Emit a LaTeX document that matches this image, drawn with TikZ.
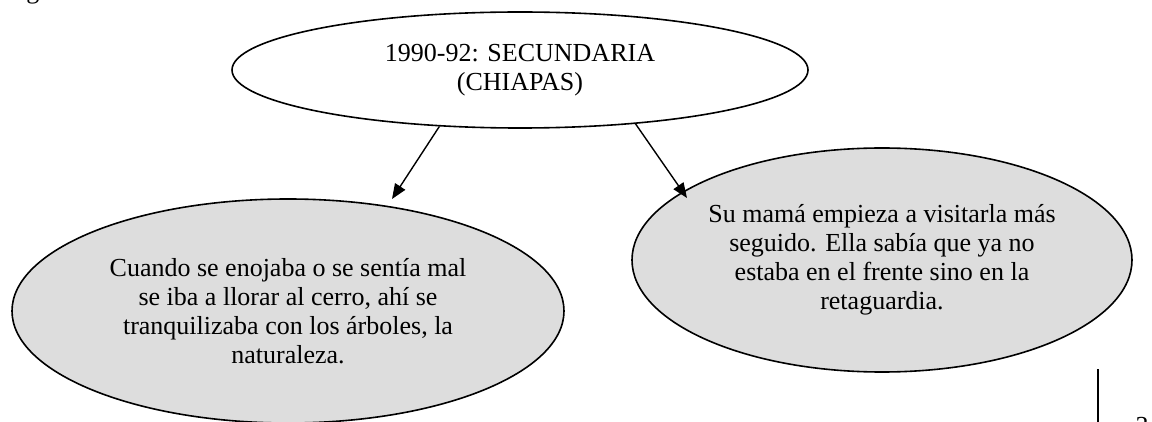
\documentclass[tikz,border=0pt]{standalone}
\usepackage{fontspec}
\setmainfont{Liberation Serif}
\usetikzlibrary{shapes.geometric,arrows.meta}
\definecolor{bubblefill}{HTML}{DDDDDD}
\tikzset{
  bubble/.style={ellipse, draw=black, line width=1.6pt, inner sep=0pt, align=center,
    font=\fontsize{26}{29}\selectfont},
  linkarrow/.style={draw=black, line width=1.4pt, -{Triangle[length=15pt,width=12pt]}},
  pagetext/.style={inner sep=0pt, font=\fontsize{26}{29}\selectfont}
}
\begin{document}
\begin{tikzpicture}[x=1pt,y=-1pt]
\useasboundingbox (0,0) rectangle (1152,422);
\clip (0,0) rectangle (1152,422);
\fill[white] (0,0) rectangle (1152,422);
% page fragments
\node[pagetext, anchor=base] (g) at (33,-1) {g};
\node[pagetext, anchor=base] (pnum) at (1142,434) {3};
\coordinate (rulea) at (1098,369);
\coordinate (ruleb) at (1098,430);
\draw[line width=1.4pt] (rulea) -- (ruleb);
% ellipses
\node[bubble, fill=white, minimum width=576pt, minimum height=116pt] (top) at (520,70)
  {1990-92: SECUNDARIA\\(CHIAPAS)};
\node[bubble, fill=bubblefill, minimum width=552pt, minimum height=224pt] (left) at (288,311)
  {Cuando se enojaba o se sentía mal\\se iba a llorar al cerro, ahí se\\tranquilizaba con los árboles, la\\naturaleza.};
\node[bubble, fill=bubblefill, minimum width=500pt, minimum height=224pt] (right) at (882,260)
  {Su mamá empieza a visitarla más\\seguido. Ella sabía que ya no\\estaba en el frente sino en la\\retaguardia.};
% arrows
\coordinate (tipL) at (392,199);
\coordinate (tipR) at (687,198);
\draw[linkarrow] (top.215) -- (tipL);
\draw[linkarrow] (top.335) -- (tipR);
\end{tikzpicture}
\end{document}
